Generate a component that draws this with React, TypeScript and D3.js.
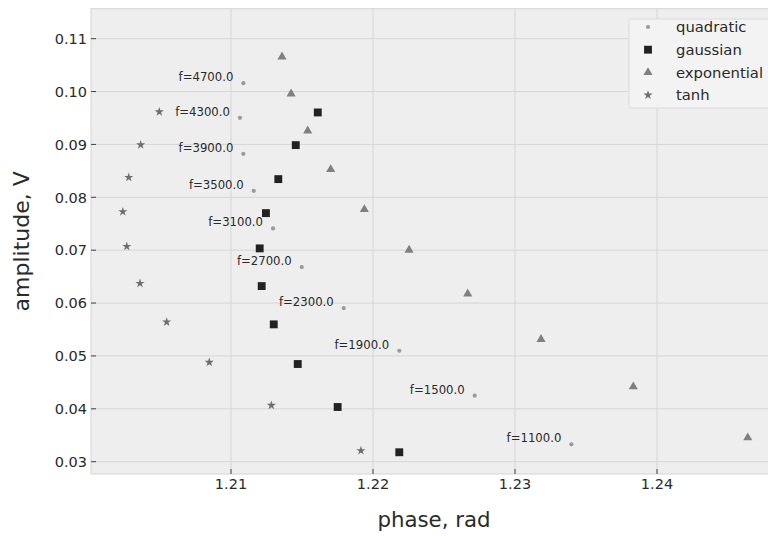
import React from "react";
import * as d3 from "d3";

const freqs = [4700, 4300, 3900, 3500, 3100, 2700, 2300, 1900, 1500, 1100];

const quadPhase = [1.21087, 1.21063, 1.21087, 1.2116, 1.21296, 1.21498, 1.21794, 1.22185, 1.22716, 1.23397];
const quadAmp = [0.10159, 0.09503, 0.08822, 0.08123, 0.07412, 0.0668, 0.05905, 0.05098, 0.04248, 0.03329];

const gaussPhase = [1.21611, 1.21456, 1.21333, 1.21246, 1.21202, 1.21216, 1.21301, 1.2147, 1.21751, 1.22185];
const gaussAmp = [0.09605, 0.08987, 0.08344, 0.07701, 0.07034, 0.06321, 0.05597, 0.04847, 0.04034, 0.03178];

const expPhase = [1.21359, 1.21423, 1.2154, 1.21702, 1.21939, 1.22254, 1.22667, 1.23183, 1.23833, 1.24639];
const expAmp = [0.10656, 0.09957, 0.09257, 0.08527, 0.07771, 0.07002, 0.06176, 0.05314, 0.04418, 0.03454];

const tanhPhase = [1.20495, 1.20364, 1.2028, 1.20238, 1.20266, 1.20359, 1.20547, 1.20847, 1.21284, 1.21915];
const tanhAmp = [0.09616, 0.08992, 0.08377, 0.07727, 0.07071, 0.06372, 0.05641, 0.04879, 0.04066, 0.03208];

const xTicks = [1.21, 1.22, 1.23, 1.24];
const yTicks = [0.03, 0.04, 0.05, 0.06, 0.07, 0.08, 0.09, 0.1, 0.11];

const seriesNames = ["quadratic", "gaussian", "exponential", "tanh"];

const FONT = "DejaVu Sans, sans-serif";

export default function App() {
  const W = 768, H = 536;
  const left = 91, right = 777, top = 8.7, bottom = 474;
  const x = d3.scaleLinear().domain([1.20014, 1.24845]).range([left, right]);
  const y = d3.scaleLinear().domain([0.02767, 0.11567]).range([bottom, top]);

  const sq = d3.symbol().type(d3.symbolSquare).size(62)();
  const tri = d3.symbol().type(d3.symbolTriangle).size(36)();
  const star = d3.symbol().type(d3.symbolStar).size(26)();

  const marker = (i: number, cx: number, cy: number, key: string) => {
    if (i === 0) return <circle key={key} cx={cx} cy={cy} r={2.1} fill="#9a9a9a" />;
    if (i === 1) return <path key={key} d={sq!} transform={`translate(${cx},${cy})`} fill="#222" />;
    if (i === 2) return <path key={key} d={tri!} transform={`translate(${cx},${cy})`} fill="#808080" />;
    return <path key={key} d={star!} transform={`translate(${cx},${cy})`} fill="#6e6e6e" />;
  };

  const series = [
    [quadPhase, quadAmp],
    [gaussPhase, gaussAmp],
    [expPhase, expAmp],
    [tanhPhase, tanhAmp],
  ];

  return (
    <svg width={W} height={H} style={{ position: "absolute", left: 0, top: 0, background: "#fff" }}>
      <rect x={left} y={top} width={right - left} height={bottom - top} fill="#eeeeee" stroke="#d4d4d4" strokeWidth={1} />
      {xTicks.map((t) => (
        <g key={"x" + t}>
          <line x1={x(t)} x2={x(t)} y1={top} y2={bottom} stroke="#d6d6d6" strokeWidth={1} />
          <line x1={x(t)} x2={x(t)} y1={bottom} y2={bottom - 5} stroke="#444" strokeWidth={1} />
          <text x={x(t)} y={489} textAnchor="middle" fontFamily={FONT} fontSize={14.5} fill="#2a2a2a">
            {t.toFixed(2)}
          </text>
        </g>
      ))}
      {yTicks.map((t) => (
        <g key={"y" + t}>
          <line x1={left} x2={right} y1={y(t)} y2={y(t)} stroke="#d6d6d6" strokeWidth={1} />
          <line x1={left} x2={left + 5} y1={y(t)} y2={y(t)} stroke="#444" strokeWidth={1} />
          <text x={87} y={y(t)} dy="0.36em" textAnchor="end" fontFamily={FONT} fontSize={14.5} fill="#2a2a2a">
            {t.toFixed(2)}
          </text>
        </g>
      ))}
      {series.map(([px, py], i) => px.map((v, j) => marker(i, x(v), y(py[j]), `m${i}-${j}`)))}
      {freqs.map((f, j) => (
        <text
          key={"a" + f}
          x={x(quadPhase[j]) - 10}
          y={y(quadAmp[j]) - 2}
          textAnchor="end"
          fontFamily={FONT}
          fontSize={11.7}
          fill="#2a2a2a"
        >
          {`f=${f.toFixed(1)}`}
        </text>
      ))}
      <rect x={629} y={19} width={170} height={89} rx={3} fill="#f3f3f3" stroke="#dcdcdc" strokeWidth={1} />
      {seriesNames.map((n, i) => (
        <g key={n}>
          {marker(i, 648, 27 + i * 22.7, "l" + i)}
          <text x={676} y={27 + i * 22.7} dy="0.36em" fontFamily={FONT} fontSize={14.8} fill="#2a2a2a">
            {n}
          </text>
        </g>
      ))}
      <text x={434} y={527} textAnchor="middle" fontFamily={FONT} fontSize={21.3} fill="#2a2a2a">
        phase, rad
      </text>
      <text
        transform={`translate(29,${(top + bottom) / 2}) rotate(-90)`}
        textAnchor="middle"
        fontFamily={FONT}
        fontSize={22}
        fill="#2a2a2a"
      >
        amplitude, V
      </text>
    </svg>
  );
}
